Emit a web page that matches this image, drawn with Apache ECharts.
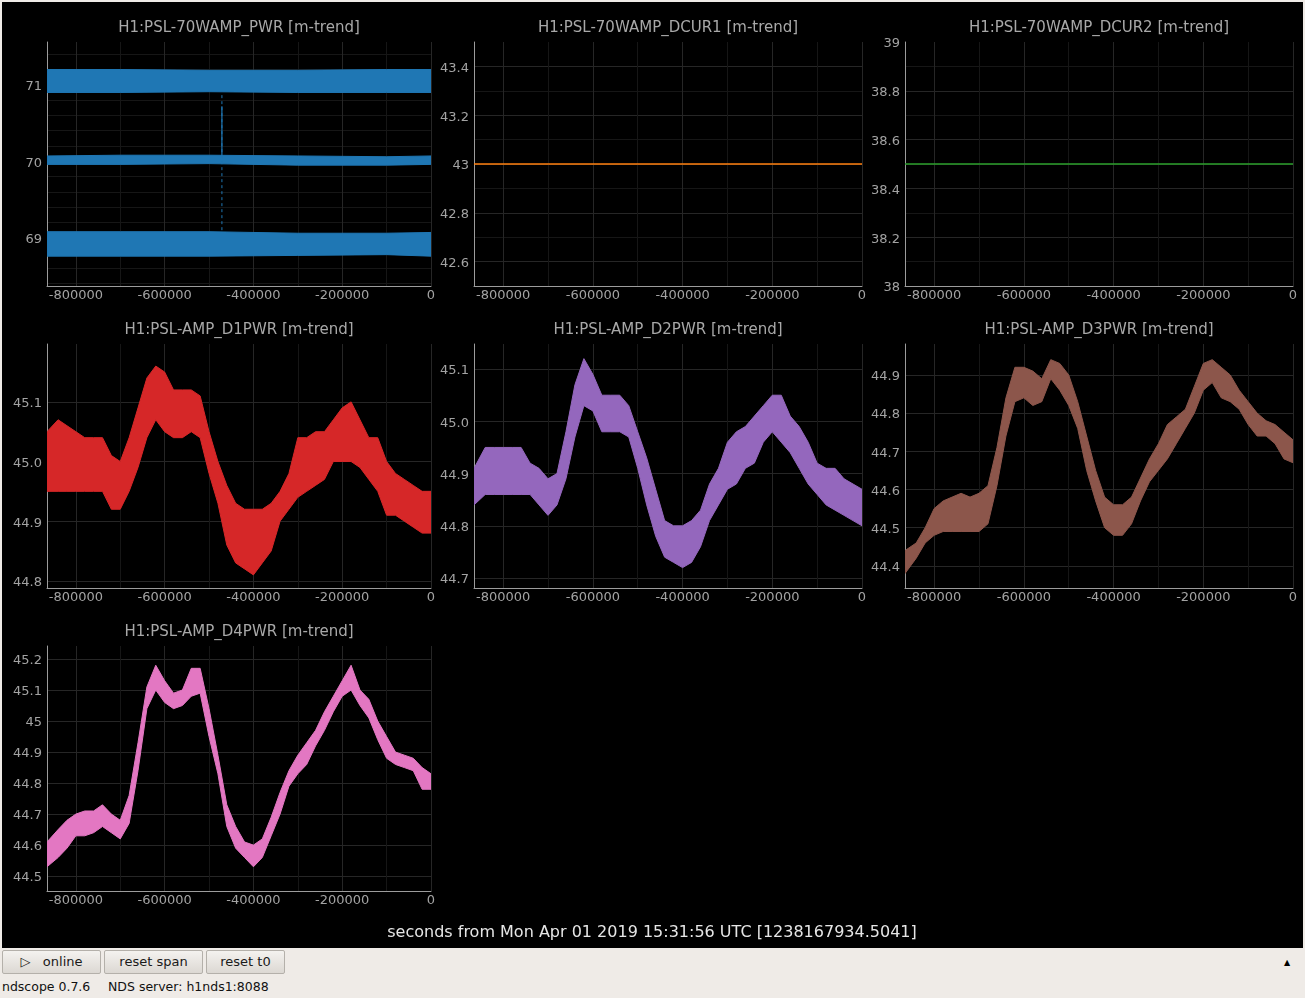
<!DOCTYPE html>
<html>
<head>
<meta charset="utf-8">
<title>ndscope</title>
<script src="https://cdn.jsdelivr.net/npm/echarts@6/dist/echarts.min.js"></script>
<style>
html, body { margin: 0; padding: 0; width: 1305px; height: 998px; overflow: hidden; background: #efebe7; font-family: "DejaVu Sans", sans-serif; }
#chart { position: absolute; left: 2px; top: 2px; width: 1301px; height: 946px; background: #000; }
.btn { position: absolute; top: 950px; height: 24px; box-sizing: border-box; border: 1px solid #b4b0aa; border-radius: 2px;
       background: linear-gradient(#f4f2ef, #dcd8d3); font-size: 13px; color: #1a1a1a; line-height: 22px; text-align: center; }
.status { position: absolute; top: 979px; font-size: 12.5px; color: #111; white-space: pre; }
#arrow { position: absolute; left: 1284px; top: 958px; font-size: 8px; color: #000; }
</style>
</head>
<body>
<div id="chart"></div>
<div class="btn" style="left:2px;width:99px;">&#9655;&nbsp;&nbsp;&nbsp;online</div>
<div class="btn" style="left:104px;width:99px;">reset span</div>
<div class="btn" style="left:206px;width:79px;">reset t0</div>
<div id="arrow">&#9650;</div>
<div class="status" style="left:2px;">ndscope 0.7.6</div>
<div class="status" style="left:108px;">NDS server: h1nds1:8088</div>
<script>
// 时间轴 (seconds from t0)
var TIME = [-865000, -840000, -820000, -800000, -780000, -760000, -740000, -720000, -700000, -680000,
            -660000, -640000, -620000, -600000, -580000, -560000, -540000, -520000, -500000, -480000,
            -460000, -440000, -420000, -400000, -380000, -360000, -340000, -320000, -300000, -280000,
            -260000, -240000, -220000, -200000, -180000, -160000, -140000, -120000, -100000, -80000,
            -60000, -40000, -20000, 0];

// H1:PSL-70WAMP_PWR  (max / mean / min bands)
var PWR_TIME = [-865000, -700000, -500000, -300000, -100000, 0];
var PWR_MAX_HI = [71.20, 71.20, 71.19, 71.19, 71.20, 71.20];
var PWR_MAX_LO = [70.90, 70.90, 70.91, 70.90, 70.90, 70.90];
var PWR_MEAN_HI = [70.07, 70.08, 70.08, 70.07, 70.06, 70.07];
var PWR_MEAN_LO = [69.96, 69.96, 69.97, 69.95, 69.95, 69.96];
var PWR_MIN_HI = [69.08, 69.08, 69.08, 69.06, 69.06, 69.07];
var PWR_MIN_LO = [68.76, 68.76, 68.76, 68.77, 68.78, 68.76];
var SPIKE_TIME = -471000;
var SPIKE_SOLID = [70.0, 70.72];
var SPIKE_DASHED = [69.1, 70.9];

// DCUR1 / DCUR2 flat lines
var FLAT_TIME = [-865000, 0];
var DCUR1 = [43.0, 43.0];
var DCUR2 = [38.5, 38.5];

// D1PWR
var D1_HI = [45.05,45.07,45.06,45.05,45.04,45.04,45.04,45.01,45.00,45.04,45.09,45.14,45.16,45.15,45.12,45.12,45.12,45.11,45.05,45.00,44.96,44.93,44.92,44.92,44.92,44.93,44.95,44.98,45.04,45.04,45.05,45.05,45.07,45.09,45.10,45.07,45.04,45.04,45.00,44.98,44.97,44.96,44.95,44.95];
var D1_LO = [44.95,44.95,44.95,44.95,44.95,44.95,44.95,44.92,44.92,44.95,44.99,45.04,45.07,45.05,45.04,45.04,45.05,45.04,44.98,44.93,44.86,44.83,44.82,44.81,44.83,44.85,44.90,44.92,44.94,44.95,44.96,44.97,45.00,45.00,45.00,44.99,44.97,44.95,44.91,44.91,44.90,44.89,44.88,44.88];
// D2PWR
var D2_HI = [44.91,44.95,44.95,44.95,44.95,44.95,44.92,44.91,44.89,44.90,44.98,45.07,45.12,45.09,45.05,45.05,45.05,45.03,44.98,44.93,44.87,44.81,44.80,44.80,44.81,44.83,44.88,44.91,44.96,44.98,44.99,45.01,45.03,45.05,45.05,45.01,44.99,44.96,44.92,44.91,44.91,44.89,44.88,44.87];
var D2_LO = [44.84,44.86,44.86,44.86,44.86,44.86,44.86,44.84,44.82,44.84,44.89,44.97,45.03,45.02,44.98,44.98,44.98,44.97,44.91,44.84,44.78,44.74,44.73,44.72,44.73,44.76,44.81,44.84,44.87,44.88,44.91,44.92,44.96,44.98,44.96,44.94,44.91,44.88,44.86,44.84,44.83,44.82,44.81,44.80];
// D3PWR
var D3_HI = [44.44,44.46,44.50,44.55,44.57,44.58,44.59,44.58,44.59,44.61,44.71,44.84,44.92,44.92,44.91,44.89,44.94,44.93,44.90,44.83,44.74,44.65,44.58,44.56,44.56,44.58,44.63,44.68,44.72,44.77,44.79,44.81,44.87,44.93,44.94,44.92,44.90,44.86,44.83,44.80,44.78,44.77,44.75,44.73];
var D3_LO = [44.38,44.42,44.46,44.48,44.49,44.49,44.49,44.49,44.49,44.51,44.61,44.74,44.83,44.84,44.82,44.83,44.89,44.86,44.82,44.76,44.65,44.57,44.50,44.48,44.48,44.51,44.57,44.62,44.65,44.68,44.72,44.76,44.80,44.86,44.88,44.84,44.83,44.81,44.77,44.74,44.74,44.72,44.68,44.67];
// D4PWR
var D4_HI = [44.61,44.65,44.68,44.70,44.71,44.71,44.73,44.70,44.68,44.76,44.93,45.11,45.18,45.13,45.09,45.10,45.17,45.17,45.04,44.89,44.73,44.66,44.61,44.60,44.62,44.69,44.77,44.84,44.89,44.93,44.97,45.03,45.08,45.13,45.18,45.10,45.07,45.00,44.95,44.90,44.89,44.88,44.85,44.83];
var D4_LO = [44.53,44.56,44.59,44.63,44.63,44.64,44.66,44.64,44.62,44.67,44.84,45.04,45.10,45.06,45.04,45.05,45.08,45.09,44.95,44.83,44.66,44.59,44.56,44.53,44.56,44.63,44.70,44.79,44.83,44.86,44.92,44.97,45.03,45.08,45.10,45.05,45.01,44.94,44.88,44.86,44.85,44.84,44.78,44.78];

// tick positions and labels
var X_GRID = [-800000, -700000, -600000, -500000, -400000, -300000, -200000, -100000, 0];
var X_LABELS = [-800000, -600000, -400000, -200000, 0];
var PWR_YGRID = [68.4, 68.6, 68.8, 69, 69.2, 69.4, 69.6, 69.8, 70, 70.2, 70.4, 70.6, 70.8, 71, 71.2, 71.4];
var PWR_YLABELS = [69, 70, 71];
var DCUR1_YGRID = [42.6, 42.7, 42.8, 42.9, 43, 43.1, 43.2, 43.3, 43.4];
var DCUR1_YLABELS = [42.6, 42.8, 43, 43.2, 43.4];
var DCUR2_YGRID = [38.1, 38.2, 38.3, 38.4, 38.5, 38.6, 38.7, 38.8, 38.9];
var DCUR2_YLABELS = [38, 38.2, 38.4, 38.6, 38.8, 39];
var D1_YTICKS = [44.8, 44.9, 45.0, 45.1];
var D2_YTICKS = [44.7, 44.8, 44.9, 45.0, 45.1];
var D3_YTICKS = [44.4, 44.5, 44.6, 44.7, 44.8, 44.9];
var D4_YTICKS = [44.5, 44.6, 44.7, 44.8, 44.9, 45, 45.1, 45.2];

var X_MIN = -865000;
var FONT = 'DejaVu Sans';
var LABEL_COLOR = '#a3a3a3';
var MAJOR = '#262626';
var MINOR = '#161616';

var chart = echarts.init(document.getElementById('chart'));

var panels = [
    {title: 'H1:PSL-70WAMP_PWR [m-trend]', left: 45, top: 40, width: 384, height: 244,
     ymin: 68.37, ymax: 71.56, grid: PWR_YGRID, labels: PWR_YLABELS, colors: [MINOR, MINOR, MINOR, MAJOR, MINOR]},
    {title: 'H1:PSL-70WAMP_DCUR1 [m-trend]', left: 472, top: 40, width: 388, height: 244,
     ymin: 42.5, ymax: 43.5, grid: DCUR1_YGRID, labels: DCUR1_YLABELS, colors: [MAJOR, MINOR]},
    {title: 'H1:PSL-70WAMP_DCUR2 [m-trend]', left: 903, top: 40, width: 388, height: 244,
     ymin: 38, ymax: 39, grid: DCUR2_YGRID, labels: DCUR2_YLABELS, colors: [MINOR, MAJOR]},
    {title: 'H1:PSL-AMP_D1PWR [m-trend]', left: 45, top: 342, width: 384, height: 244,
     ymin: 44.788, ymax: 45.197, grid: D1_YTICKS, labels: D1_YTICKS, colors: [MAJOR], fixed: 1},
    {title: 'H1:PSL-AMP_D2PWR [m-trend]', left: 472, top: 342, width: 388, height: 244,
     ymin: 44.681, ymax: 45.148, grid: D2_YTICKS, labels: D2_YTICKS, colors: [MAJOR], fixed: 1},
    {title: 'H1:PSL-AMP_D3PWR [m-trend]', left: 903, top: 342, width: 388, height: 244,
     ymin: 44.342, ymax: 44.981, grid: D3_YTICKS, labels: D3_YTICKS, colors: [MAJOR], fixed: 1},
    {title: 'H1:PSL-AMP_D4PWR [m-trend]', left: 45, top: 644, width: 384, height: 245,
     ymin: 44.452, ymax: 45.242, grid: D4_YTICKS, labels: D4_YTICKS, colors: [MAJOR]}
];

function pairs(xs, ys) {
    return xs.map(function (x, i) { return [x, ys[i]]; });
}

// 画一条 min/max 带 (多边形, 用坐标轴换算)
function band(idx, xs, lo, hi, color) {
    return {
        type: 'custom', coordinateSystem: 'cartesian2d', xAxisIndex: idx, yAxisIndex: idx,
        silent: true, clip: true,
        data: pairs(xs, lo),
        renderItem: function (params, api) {
            if (params.dataIndex !== 0) return;
            var pts = [];
            for (var i = 0; i < xs.length; i++) pts.push(api.coord([xs[i], lo[i]]));
            for (var j = xs.length - 1; j >= 0; j--) pts.push(api.coord([xs[j], hi[j]]));
            return {type: 'polygon', shape: {points: pts},
                    style: {fill: color, stroke: color, lineWidth: 1}};
        }
    };
}

var grids = [], xAxes = [], yAxes = [], graphics = [];
panels.forEach(function (p, i) {
    grids.push({left: p.left, top: p.top, width: p.width, height: p.height, containLabel: false});
    xAxes.push({
        type: 'value', gridIndex: i, min: X_MIN, max: 0,
        axisLine: {show: true, onZero: false, lineStyle: {color: '#9c9c9c'}},
        axisTick: {show: false, customValues: X_GRID},
        axisLabel: {customValues: X_LABELS, color: LABEL_COLOR, fontSize: 13, fontFamily: FONT, margin: 3,
            formatter: function (v) { return String(v); }},
        splitLine: {show: true, lineStyle: {color: [MAJOR, MINOR], width: 1}}
    });
    yAxes.push({
        type: 'value', gridIndex: i, min: p.ymin, max: p.ymax,
        axisLine: {show: true, onZero: false, lineStyle: {color: '#9c9c9c'}},
        axisTick: {show: false, customValues: p.grid},
        axisLabel: {customValues: p.labels, margin: 5,
            formatter: function (v) { return '{a|' + (p.fixed ? v.toFixed(p.fixed) : String(v)) + '}'; },
            rich: {a: {color: LABEL_COLOR, fontSize: 13, fontFamily: FONT, padding: [4, 0, 0, 0]}}},
        splitLine: {show: true, lineStyle: {color: p.colors, width: 1}}
    });
    graphics.push({
        type: 'text', x: p.left + p.width / 2, y: p.top - 14,
        style: {text: p.title, align: 'center', verticalAlign: 'middle', fill: '#a8a8a8', fontSize: 15, fontFamily: FONT}
    });
});
graphics.push({
    type: 'text', x: 650, y: 931,
    style: {text: 'seconds from Mon Apr 01 2019 15:31:56 UTC [1238167934.5041]', align: 'center', verticalAlign: 'middle',
            fill: '#e6e6e6', fontSize: 16, fontFamily: FONT}
});

var series = [];
series.push(band(0, PWR_TIME, PWR_MAX_LO, PWR_MAX_HI, '#1f77b4'));
series.push(band(0, PWR_TIME, PWR_MEAN_LO, PWR_MEAN_HI, '#1f77b4'));
series.push(band(0, PWR_TIME, PWR_MIN_LO, PWR_MIN_HI, '#1f77b4'));
series.push({type: 'line', xAxisIndex: 0, yAxisIndex: 0, symbol: 'none', silent: true,
    data: pairs([SPIKE_TIME, SPIKE_TIME], SPIKE_DASHED), lineStyle: {color: '#1f77b4', width: 1, type: [3, 3]}});
series.push({type: 'line', xAxisIndex: 0, yAxisIndex: 0, symbol: 'none', silent: true,
    data: pairs([SPIKE_TIME, SPIKE_TIME], SPIKE_SOLID), lineStyle: {color: '#1f77b4', width: 1.2}});
series.push({type: 'line', xAxisIndex: 1, yAxisIndex: 1, symbol: 'none', silent: true,
    data: pairs(FLAT_TIME, DCUR1), lineStyle: {color: '#ff7f0e', width: 1.3}});
series.push({type: 'line', xAxisIndex: 2, yAxisIndex: 2, symbol: 'none', silent: true,
    data: pairs(FLAT_TIME, DCUR2), lineStyle: {color: '#2ca02c', width: 1.3}});
series.push(band(3, TIME, D1_LO, D1_HI, '#d62728'));
series.push(band(4, TIME, D2_LO, D2_HI, '#9467bd'));
series.push(band(5, TIME, D3_LO, D3_HI, '#8c564b'));
series.push(band(6, TIME, D4_LO, D4_HI, '#e377c2'));

var option = {
    backgroundColor: '#000',
    animation: false,
    grid: grids,
    xAxis: xAxes,
    yAxis: yAxes,
    graphic: graphics,
    series: series
};

chart.setOption(option);
</script>
</body>
</html>
